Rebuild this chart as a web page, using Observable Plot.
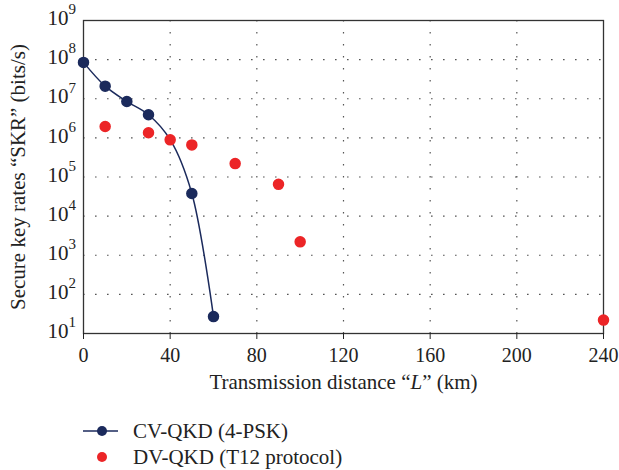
<!DOCTYPE html>
<html>
<head>
<meta charset="utf-8">
<script src="https://cdn.jsdelivr.net/npm/d3@7"></script>
<script src="https://cdn.jsdelivr.net/npm/@observablehq/plot@0.6"></script>
<style>
  body { margin: 0; background: #fff; font-family: "Liberation Serif", "DejaVu Serif", serif; }
  #legend { position: relative; width: 619px; height: 70px; }
</style>
</head>
<body>
<div id="chart"></div>
<div id="legend"></div>
<script>
// Data
const cvDistance = [0, 10, 20, 30, 40, 50, 60];
const cvRate = [8.5e7, 2.1e7, 8.5e6, 3.9e6, 9.0e5, 3.8e4, 27];
const cvMarkerShown = [true, true, true, true, false, true, true];
const dvDistance = [10, 30, 40, 50, 70, 90, 100, 240];
const dvRate = [1.95e6, 1.35e6, 8.9e5, 6.6e5, 2.2e5, 6.5e4, 2.2e3, 22];
const xTicks = [0, 40, 80, 120, 160, 200, 240];
const yExponents = [1, 2, 3, 4, 5, 6, 7, 8, 9];
const seriesNames = ["CV-QKD (4-PSK)", "DV-QKD (T12 protocol)"];
const xLabel = "Transmission distance \u201CL\u201D (km)";
const yLabel = "Secure key rates \u201CSKR\u201D (bits/s)";

const navy = "#1b2a5c";
const red = "#ec2527";

const cv = cvDistance.map((d, i) => ({x: d, y: cvRate[i], m: cvMarkerShown[i]}));
const dv = dvDistance.map((d, i) => ({x: d, y: dvRate[i]}));
const decades = yExponents.map(e => ({v: Math.pow(10, e), e: String(e)}));

const font = "Liberation Serif, DejaVu Serif, serif";

const chart = Plot.plot({
  width: 619,
  height: 400,
  marginLeft: 83,
  marginRight: 16,
  marginTop: 20,
  marginBottom: 67,
  style: {fontFamily: font, fontSize: "18px", color: "#222", background: "#fff"},
  x: {domain: [0, 240]},
  y: {type: "log", domain: [10, 1e9]},
  marks: [
    Plot.gridX(xTicks.slice(1, -1), {stroke: "#555", strokeOpacity: 1, strokeDasharray: "1.6,10.4", strokeWidth: 1.2}),
    Plot.gridY(decades.slice(1, -1).map(d => d.v), {stroke: "#555", strokeOpacity: 1, strokeDasharray: "1.6,10.4", strokeWidth: 1.2}),
    Plot.frame({stroke: "#333", strokeWidth: 1.3}),
    Plot.axisX(xTicks, {tickSize: 6, tickPadding: 8, fontSize: 20, label: null, stroke: "#222"}),
    Plot.axisY(decades.map(d => d.v), {tickSize: 0, tickFormat: () => "", label: null}),
    Plot.text(decades, {y: "v", text: () => "10", frameAnchor: "left", textAnchor: "end", dx: -15, dy: -2, fontSize: 21, fill: "#222"}),
    Plot.text(decades, {y: "v", text: "e", frameAnchor: "left", textAnchor: "start", dx: -15, dy: -11, fontSize: 15, fill: "#222"}),
    Plot.text([xLabel], {frameAnchor: "bottom", dy: 55, fontSize: 21, fill: "#222"}),
    Plot.text([yLabel], {frameAnchor: "left", textAnchor: "middle", rotate: -90, dx: -65, fontSize: 21, fill: "#222"}),
    Plot.line(cv, {x: "x", y: "y", stroke: navy, strokeWidth: 1.5, curve: "catmull-rom"}),
    Plot.dot(cv.filter(d => d.m), {x: "x", y: "y", r: 5, fill: navy, stroke: navy}),
    Plot.dot(dv, {x: "x", y: "y", r: 5, fill: red, stroke: red})
  ]
});
document.getElementById("chart").appendChild(chart);

// italic L in x label
chart.querySelectorAll("text").forEach(t => {
  if (t.textContent === xLabel) {
    const parts = xLabel.split("L");
    t.textContent = "";
    const ns = "http://www.w3.org/2000/svg";
    const a = document.createElementNS(ns, "tspan"); a.textContent = parts[0];
    const b = document.createElementNS(ns, "tspan"); b.textContent = "L"; b.setAttribute("font-style", "italic");
    const c = document.createElementNS(ns, "tspan"); c.textContent = parts[1];
    t.append(a, b, c);
  }
});

// legend
const lg = d3.select("#legend").append("svg").attr("width", 619).attr("height", 70)
  .style("font-family", font);
const row1 = lg.append("g").attr("transform", "translate(0,31)");
row1.append("line").attr("x1", 83).attr("x2", 118).attr("stroke", navy).attr("stroke-width", 1.5);
row1.append("circle").attr("cx", 102).attr("r", 5).attr("fill", navy);
row1.append("text").attr("x", 133).attr("dy", "0.35em").attr("font-size", 21).attr("fill", "#222").text(seriesNames[0]);
const row2 = lg.append("g").attr("transform", "translate(0,57)");
row2.append("circle").attr("cx", 102).attr("r", 5).attr("fill", red);
row2.append("text").attr("x", 133).attr("dy", "0.35em").attr("font-size", 21).attr("fill", "#222").text(seriesNames[1]);
</script>
</body>
</html>
